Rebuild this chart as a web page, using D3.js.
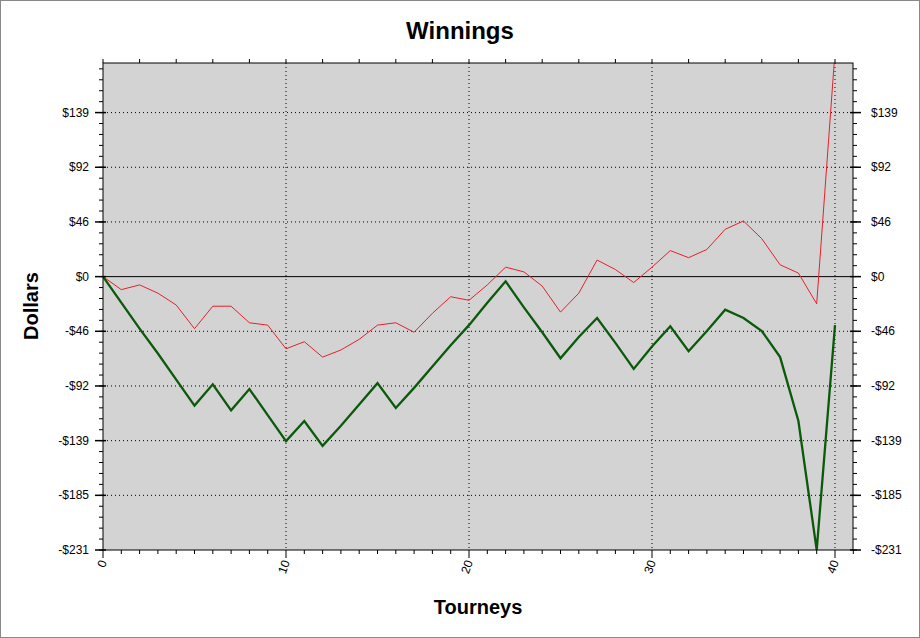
<!DOCTYPE html>
<html><head><meta charset="utf-8">
<script src="https://cdn.jsdelivr.net/npm/d3@7"></script>
<style>body{margin:0;background:#fff}svg{display:block}</style>
</head><body>
<svg id="c" width="920" height="638"></svg>
<script>
const xTicks = [0, 10, 20, 30, 40];
const yTickValues = [-231, -184.8, -138.6, -92.4, -46.2, 0, 46.2, 92.4, 138.6];
const yTickLabels = ["-$231", "-$185", "-$139", "-$92", "-$46", "$0", "$46", "$92", "$139"];
const tourneys = d3.range(0, 41);
const redSeries = [0,-11,-7,-14,-24,-44,-25,-25,-39,-41,-61,-55,-68,-62,-53,-41,-39,-47,-31,-17,-20,-7,8,4,-8,-30,-14,14,6,-5,8,22,16,23,40,47,32,10,3,-23,190];
const greenSeries = [0,-22,-44,-65,-87,-109,-91,-113,-95,-117,-139,-122,-143,-126,-108,-90,-111,-94,-76,-58,-41,-22,-4,-26,-47,-69,-51,-35,-56,-78,-59,-42,-63,-46,-28,-35,-46,-68,-122,-231,-41];

const svg = d3.select("#c");
svg.append("rect").attr("x",0.5).attr("y",0.5).attr("width",919).attr("height",637).attr("fill","#fff").attr("stroke","#888");
const L=103,R=853,T=63,B=550;
const x = d3.scaleLinear().domain([0,41]).range([L, L+41*18.3]);
const y = d3.scaleLinear().domain([-231,180.5]).range([B,T]);
svg.append("rect").attr("x",L).attr("y",T).attr("width",R-L).attr("height",B-T).attr("fill","#d3d3d3");
const g = svg.append("g");
// grid
xTicks.slice(1).forEach(v=>g.append("line").attr("x1",x(v)).attr("x2",x(v)).attr("y1",T).attr("y2",B).attr("stroke","#000").attr("stroke-dasharray","1,3"));
yTickValues.forEach(v=>{ if(v!==0 && v!==-231) g.append("line").attr("x1",L).attr("x2",R).attr("y1",y(v)).attr("y2",y(v)).attr("stroke","#000").attr("stroke-dasharray","1,3");});
g.append("line").attr("x1",L).attr("x2",R).attr("y1",y(0)).attr("y2",y(0)).attr("stroke","#000");
// clip
svg.append("clipPath").attr("id","cp").append("rect").attr("x",L).attr("y",T).attr("width",R-L).attr("height",B-T);
const line = d3.line().x((d,i)=>x(tourneys[i])).y(d=>y(d));
svg.append("path").attr("clip-path","url(#cp)").attr("d",line(redSeries)).attr("fill","none").attr("stroke","#e8202a").attr("stroke-width",1);
svg.append("path").attr("clip-path","url(#cp)").attr("d",line(greenSeries)).attr("fill","none").attr("stroke","#0a5a0a").attr("stroke-width",2.3);
svg.append("rect").attr("x",L).attr("y",T).attr("width",R-L).attr("height",B-T).attr("fill","none").attr("stroke","#000");
// y axes
const minor = d3.range(-231,181,9.24);
const fmt = (v)=>yTickLabels[yTickValues.indexOf(v)];
const ax = svg.append("g").attr("font-family","Arial, Liberation Sans").attr("font-size",12);
[[L,-1],[R,1]].forEach(([px,dir])=>{
  minor.forEach(v=>ax.append("line").attr("x1",px).attr("x2",px+dir*4).attr("y1",y(v)).attr("y2",y(v)).attr("stroke","#000"));
  yTickValues.forEach(v=>{
    ax.append("line").attr("x1",px-dir*3).attr("x2",px+dir*8).attr("y1",y(v)).attr("y2",y(v)).attr("stroke","#000").attr("stroke-width",1.5);
    ax.append("text").attr("x",dir<0?px-14:px+18).attr("y",y(v)+4).attr("text-anchor",dir<0?"end":"start").text(fmt(v));
  });
});
// x axis
d3.range(0,42).forEach(v=>ax.append("line").attr("x1",x(v)).attr("x2",x(v)).attr("y1",B).attr("y2",B+(v%10===0?8:4)).attr("stroke","#000"));
d3.range(0,41,2).forEach(v=>ax.append("line").attr("x1",x(v)).attr("x2",x(v)).attr("y1",T).attr("y2",T-4).attr("stroke","#000"));
xTicks.forEach(v=>ax.append("text").attr("transform",`translate(${x(v)+4},${B+12}) rotate(-70)`).attr("text-anchor","end").text(v));
svg.append("text").attr("x",460).attr("y",39).attr("text-anchor","middle").attr("font-family","Arial, Liberation Sans").attr("font-weight","bold").attr("font-size",24).text("Winnings");
svg.append("text").attr("x",478).attr("y",614).attr("text-anchor","middle").attr("font-family","Arial, Liberation Sans").attr("font-weight","bold").attr("font-size",20).text("Tourneys");
svg.append("text").attr("transform","translate(38,306) rotate(-90)").attr("text-anchor","middle").attr("font-family","Arial, Liberation Sans").attr("font-weight","bold").attr("font-size",20).text("Dollars");
</script></body></html>
